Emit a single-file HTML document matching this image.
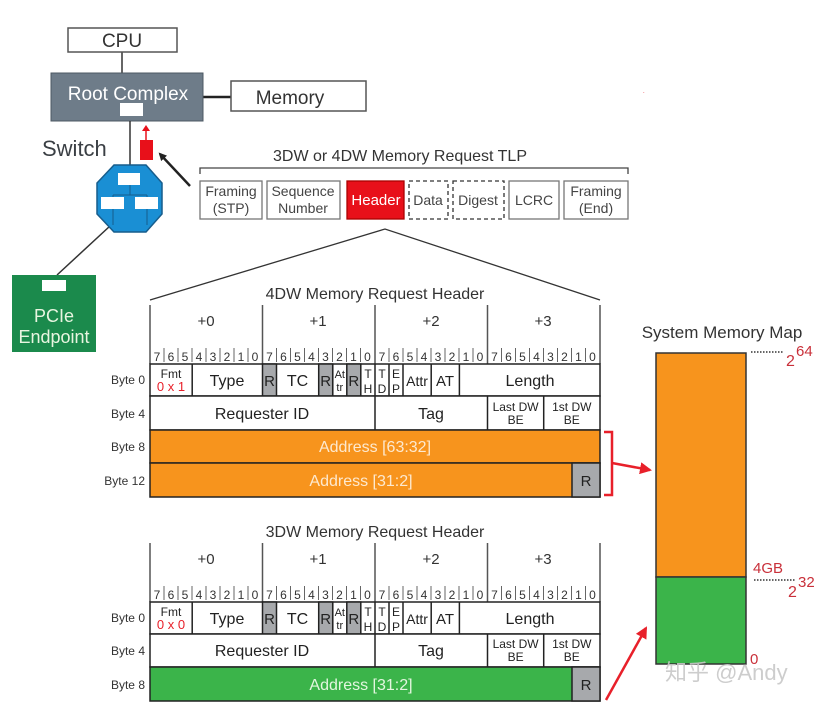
<!DOCTYPE html>
<html><head><meta charset="utf-8"><style>
html,body{margin:0;padding:0;background:#fff;}
svg{display:block;font-family:"Liberation Sans","Noto Sans CJK SC",sans-serif;}
</style></head><body>
<svg width="836" height="712" viewBox="0 0 836 712" xmlns="http://www.w3.org/2000/svg">
<defs>
<marker id="ab" markerWidth="8" markerHeight="8" refX="6" refY="4" orient="auto" markerUnits="userSpaceOnUse"><path d="M0,0 L8,4 L0,8 z" fill="#222"/></marker>
<marker id="ar" markerWidth="12" markerHeight="12" refX="10" refY="6" orient="auto" markerUnits="userSpaceOnUse"><path d="M0,0 L12,6 L0,12 z" fill="#e8202a"/></marker>
</defs>
<!-- left topology -->
<line x1="122" y1="52" x2="122" y2="73" stroke="#333" stroke-width="1.5"/>
<rect x="68" y="28" width="109" height="24" fill="#fff" stroke="#555" stroke-width="1.5"/>
<text x="122" y="47" font-size="19" text-anchor="middle" fill="#333">CPU</text>
<line x1="203" y1="97" x2="231" y2="97" stroke="#222" stroke-width="2.5"/>
<rect x="51" y="73" width="152" height="48" fill="#6e7c89" stroke="#4c5863"/>
<text x="128" y="100" font-size="19" text-anchor="middle" fill="#fff">Root Complex</text>
<rect x="120" y="103" width="23" height="13" fill="#fff"/>
<rect x="231" y="81" width="135" height="30" fill="#fff" stroke="#555" stroke-width="1.5"/>
<text x="290" y="104" font-size="19" text-anchor="middle" fill="#333">Memory</text>
<line x1="130" y1="121" x2="130" y2="166" stroke="#333" stroke-width="1.5"/>
<text x="42" y="156" font-size="22" fill="#3a3f44">Switch</text>
<rect x="140" y="140" width="13" height="20" fill="#e8101a"/>
<line x1="146" y1="140" x2="146" y2="130" stroke="#e8101a" stroke-width="1.5"/>
<path d="M142,131 L146,125 L150,131z" fill="#e8101a"/>
<line x1="190" y1="186" x2="160" y2="154" stroke="#222" stroke-width="2.5" marker-end="url(#ab)"/>
<line x1="110" y1="226" x2="57" y2="275" stroke="#333" stroke-width="1.5"/>
<polygon points="114,165 146,165 162,183 162,214 146,232 114,232 97,214 97,183" fill="#1a8fd4" stroke="#175d8c" stroke-width="1.5"/>
<path d="M130,185 V195 M113,195 H147 M113,195 V225 M147,195 V225" stroke="#175d8c" fill="none"/>
<rect x="118" y="173" width="22" height="12" fill="#fff"/>
<rect x="101" y="197" width="23" height="12" fill="#fff"/>
<rect x="135" y="197" width="23" height="12" fill="#fff"/>
<rect x="12" y="275" width="84" height="77" fill="#1b8a4c"/>
<rect x="42" y="280" width="24" height="11" fill="#fff"/>
<text x="54" y="322" font-size="18" text-anchor="middle" fill="#e8f5e0">PCIe</text>
<text x="54" y="343" font-size="18" text-anchor="middle" fill="#e8f5e0">Endpoint</text>
<text x="643" y="93" font-size="6" fill="#e8202a">.</text>
<!-- TLP -->
<text x="400" y="161" font-size="16" text-anchor="middle" fill="#333">3DW or 4DW Memory Request TLP</text>
<path d="M200,174 V168 H628 V174" stroke="#444" fill="none" stroke-width="1.3"/>
<g font-size="14" fill="#444" text-anchor="middle" stroke-width="1.3">
<rect x="200" y="181" width="62" height="38" fill="#fff" stroke="#777"/>
<text x="231" y="196">Framing</text><text x="231" y="213">(STP)</text>
<rect x="267" y="181" width="73" height="38" fill="#fff" stroke="#777"/>
<text x="303" y="196">Sequence</text><text x="303" y="213">Number</text>
<rect x="347" y="181" width="57" height="38" fill="#e8101a" stroke="#a00"/>
<text x="376" y="205" fill="#fff" font-size="15">Header</text>
<rect x="409" y="181" width="39" height="38" fill="#fff" stroke="#333" stroke-dasharray="4,3"/>
<text x="428" y="205">Data</text>
<rect x="453" y="181" width="51" height="38" fill="#fff" stroke="#333" stroke-dasharray="4,3"/>
<text x="478" y="205">Digest</text>
<rect x="509" y="181" width="50" height="38" fill="#fff" stroke="#777"/>
<text x="534" y="205">LCRC</text>
<rect x="564" y="181" width="64" height="38" fill="#fff" stroke="#777"/>
<text x="596" y="196">Framing</text><text x="596" y="213">(End)</text>
</g>
<path d="M150,300 L385,229 L600,300" stroke="#333" fill="none" stroke-width="1.3"/>

<!-- 4DW header -->
<g id="h4">
<text x="375" y="299" font-size="16" text-anchor="middle" fill="#333">4DW Memory Request Header</text>
<path d="M150,305 V364 M262.5,305 V364 M375,305 V364 M487.5,305 V364 M600,305 V364" stroke="#555" stroke-width="1.5"/>
<g font-size="15" text-anchor="middle" fill="#333"><text x="206" y="326">+0</text><text x="318" y="326">+1</text><text x="431" y="326">+2</text><text x="543" y="326">+3</text></g>
<path d="M164,348V362M178,348V362M192,348V362M206,348V362M220,348V362M234,348V362M248,348V362 M276.5,348V362M290.5,348V362M304.5,348V362M318.5,348V362M332.5,348V362M346.5,348V362M360.5,348V362 M389,348V362M403,348V362M417,348V362M431,348V362M445,348V362M459,348V362M473,348V362 M501.5,348V362M515.5,348V362M529.5,348V362M543.5,348V362M557.5,348V362M571.5,348V362M585.5,348V362" stroke="#666"/>
<g font-size="12" fill="#333" text-anchor="middle">
<text x="157" y="361">7</text><text x="171" y="361">6</text><text x="185" y="361">5</text><text x="199" y="361">4</text><text x="213" y="361">3</text><text x="227" y="361">2</text><text x="241" y="361">1</text><text x="255" y="361">0</text>
<text x="269.5" y="361">7</text><text x="283.5" y="361">6</text><text x="297.5" y="361">5</text><text x="311.5" y="361">4</text><text x="325.5" y="361">3</text><text x="339.5" y="361">2</text><text x="353.5" y="361">1</text><text x="367.5" y="361">0</text>
<text x="382" y="361">7</text><text x="396" y="361">6</text><text x="410" y="361">5</text><text x="424" y="361">4</text><text x="438" y="361">3</text><text x="452" y="361">2</text><text x="466" y="361">1</text><text x="480" y="361">0</text>
<text x="494.5" y="361">7</text><text x="508.5" y="361">6</text><text x="522.5" y="361">5</text><text x="536.5" y="361">4</text><text x="550.5" y="361">3</text><text x="564.5" y="361">2</text><text x="578.5" y="361">1</text><text x="592.5" y="361">0</text>
</g>
<g stroke="#222" stroke-width="1.5">
<rect x="150" y="364" width="450" height="32" fill="#fff"/>
<rect x="262.5" y="364" width="14" height="32" fill="#a7a9ac"/>
<rect x="318.7" y="364" width="14" height="32" fill="#a7a9ac"/>
<rect x="346.8" y="364" width="14" height="32" fill="#a7a9ac"/>
<path d="M192.2,364V396 M332.8,364V396 M375,364V396 M389,364V396 M403,364V396 M431.2,364V396 M459.4,364V396" fill="none"/>
<rect x="150" y="396" width="450" height="34" fill="#fff"/>
<path d="M375,396V430 M487.5,396V430 M543.7,396V430" fill="none"/>
</g>
<g fill="#222" text-anchor="middle">
<text x="171" y="378" font-size="12">Fmt</text>
<text x="227" y="386" font-size="16">Type</text>
<text x="269.5" y="386" font-size="15">R</text>
<text x="297.5" y="386" font-size="16">TC</text>
<text x="325.7" y="386" font-size="15">R</text>
<text x="339.8" y="378" font-size="11">At</text><text x="339.8" y="391" font-size="11">tr</text>
<text x="353.8" y="386" font-size="15">R</text>
<text x="368" y="378" font-size="12">T</text><text x="368" y="393" font-size="12">H</text>
<text x="382" y="378" font-size="12">T</text><text x="382" y="393" font-size="12">D</text>
<text x="396" y="378" font-size="12">E</text><text x="396" y="393" font-size="12">P</text>
<text x="417" y="386" font-size="14">Attr</text>
<text x="445" y="386" font-size="15">AT</text>
<text x="530" y="386" font-size="16">Length</text>
<text x="262" y="419" font-size="16">Requester ID</text>
<text x="431" y="419" font-size="16">Tag</text>
<text x="515.6" y="411" font-size="12">Last DW</text><text x="515.6" y="424" font-size="12">BE</text>
<text x="571.8" y="411" font-size="12">1st DW</text><text x="571.8" y="424" font-size="12">BE</text>
</g>
<g font-size="12" fill="#333" text-anchor="end"><text x="145" y="384">Byte 0</text><text x="145" y="418">Byte 4</text></g>
</g>
<text x="171" y="391" font-size="13" text-anchor="middle" fill="#e8202a">0 x 1</text>
<g stroke="#222" stroke-width="1.5">
<rect x="150" y="430" width="450" height="33" fill="#f7941d"/>
<rect x="150" y="463" width="450" height="34" fill="#f7941d"/>
<rect x="572" y="463" width="28" height="34" fill="#a7a9ac"/>
</g>
<g font-size="16" fill="#fde9cf" text-anchor="middle"><text x="375" y="452">Address [63:32]</text><text x="361" y="486">Address [31:2]</text></g>
<text x="586" y="486" font-size="15" text-anchor="middle" fill="#222">R</text>
<g font-size="12" fill="#333" text-anchor="end"><text x="145" y="451">Byte 8</text><text x="145" y="485">Byte 12</text></g>
<path d="M604,432 H612 V495 H604" stroke="#e8202a" stroke-width="2.5" fill="none"/>
<line x1="612" y1="463" x2="650" y2="470" stroke="#e8202a" stroke-width="2.5" marker-end="url(#ar)"/>

<!-- 3DW header -->
<g transform="translate(0,238)">
<text x="375" y="299" font-size="16" text-anchor="middle" fill="#333">3DW Memory Request Header</text>
<path d="M150,305 V364 M262.5,305 V364 M375,305 V364 M487.5,305 V364 M600,305 V364" stroke="#555" stroke-width="1.5"/>
<g font-size="15" text-anchor="middle" fill="#333"><text x="206" y="326">+0</text><text x="318" y="326">+1</text><text x="431" y="326">+2</text><text x="543" y="326">+3</text></g>
<path d="M164,348V362M178,348V362M192,348V362M206,348V362M220,348V362M234,348V362M248,348V362 M276.5,348V362M290.5,348V362M304.5,348V362M318.5,348V362M332.5,348V362M346.5,348V362M360.5,348V362 M389,348V362M403,348V362M417,348V362M431,348V362M445,348V362M459,348V362M473,348V362 M501.5,348V362M515.5,348V362M529.5,348V362M543.5,348V362M557.5,348V362M571.5,348V362M585.5,348V362" stroke="#666"/>
<g font-size="12" fill="#333" text-anchor="middle">
<text x="157" y="361">7</text><text x="171" y="361">6</text><text x="185" y="361">5</text><text x="199" y="361">4</text><text x="213" y="361">3</text><text x="227" y="361">2</text><text x="241" y="361">1</text><text x="255" y="361">0</text>
<text x="269.5" y="361">7</text><text x="283.5" y="361">6</text><text x="297.5" y="361">5</text><text x="311.5" y="361">4</text><text x="325.5" y="361">3</text><text x="339.5" y="361">2</text><text x="353.5" y="361">1</text><text x="367.5" y="361">0</text>
<text x="382" y="361">7</text><text x="396" y="361">6</text><text x="410" y="361">5</text><text x="424" y="361">4</text><text x="438" y="361">3</text><text x="452" y="361">2</text><text x="466" y="361">1</text><text x="480" y="361">0</text>
<text x="494.5" y="361">7</text><text x="508.5" y="361">6</text><text x="522.5" y="361">5</text><text x="536.5" y="361">4</text><text x="550.5" y="361">3</text><text x="564.5" y="361">2</text><text x="578.5" y="361">1</text><text x="592.5" y="361">0</text>
</g>
<g stroke="#222" stroke-width="1.5">
<rect x="150" y="364" width="450" height="32" fill="#fff"/>
<rect x="262.5" y="364" width="14" height="32" fill="#a7a9ac"/>
<rect x="318.7" y="364" width="14" height="32" fill="#a7a9ac"/>
<rect x="346.8" y="364" width="14" height="32" fill="#a7a9ac"/>
<path d="M192.2,364V396 M332.8,364V396 M375,364V396 M389,364V396 M403,364V396 M431.2,364V396 M459.4,364V396" fill="none"/>
<rect x="150" y="396" width="450" height="33" fill="#fff"/>
<path d="M375,396V429 M487.5,396V429 M543.7,396V429" fill="none"/>
<rect x="150" y="429" width="450" height="34" fill="#3bb44a"/>
<rect x="572" y="429" width="28" height="34" fill="#a7a9ac"/>
</g>
<g fill="#222" text-anchor="middle">
<text x="171" y="378" font-size="12">Fmt</text>
<text x="227" y="386" font-size="16">Type</text>
<text x="269.5" y="386" font-size="15">R</text>
<text x="297.5" y="386" font-size="16">TC</text>
<text x="325.7" y="386" font-size="15">R</text>
<text x="339.8" y="378" font-size="11">At</text><text x="339.8" y="391" font-size="11">tr</text>
<text x="353.8" y="386" font-size="15">R</text>
<text x="368" y="378" font-size="12">T</text><text x="368" y="393" font-size="12">H</text>
<text x="382" y="378" font-size="12">T</text><text x="382" y="393" font-size="12">D</text>
<text x="396" y="378" font-size="12">E</text><text x="396" y="393" font-size="12">P</text>
<text x="417" y="386" font-size="14">Attr</text>
<text x="445" y="386" font-size="15">AT</text>
<text x="530" y="386" font-size="16">Length</text>
<text x="262" y="418" font-size="16">Requester ID</text>
<text x="431" y="418" font-size="16">Tag</text>
<text x="515.6" y="410" font-size="12">Last DW</text><text x="515.6" y="423" font-size="12">BE</text>
<text x="571.8" y="410" font-size="12">1st DW</text><text x="571.8" y="423" font-size="12">BE</text>
<text x="586" y="452" font-size="15">R</text>
</g>
<text x="171" y="391" font-size="13" text-anchor="middle" fill="#e8202a">0 x 0</text>
<text x="361" y="452" font-size="16" text-anchor="middle" fill="#e3f6df">Address [31:2]</text>
<g font-size="12" fill="#333" text-anchor="end"><text x="145" y="384">Byte 0</text><text x="145" y="417">Byte 4</text><text x="145" y="451">Byte 8</text></g>
</g>
<line x1="606" y1="700" x2="646" y2="628" stroke="#e8202a" stroke-width="2.5" marker-end="url(#ar)"/>

<!-- memory map -->
<text x="722" y="338" font-size="17" text-anchor="middle" fill="#333">System Memory Map</text>
<rect x="656" y="353" width="90" height="224" fill="#f7941d" stroke="#333" stroke-width="1.5"/>
<rect x="656" y="577" width="90" height="87" fill="#3bb44a" stroke="#333" stroke-width="1.5"/>
<path d="M751,352 H784 M754,580 H795" stroke="#333" stroke-width="1.5" stroke-dasharray="1.5,1.5"/>
<g fill="#c9303a">
<text x="786" y="366" font-size="16">2</text><text x="796" y="356" font-size="15">64</text>
<text x="753" y="573" font-size="15">4GB</text>
<text x="788" y="597" font-size="16">2</text><text x="798" y="587" font-size="15">32</text>
<text x="750" y="664" font-size="15">0</text>
</g>
<text x="665" y="680" font-size="22" fill="#c8c8c8" opacity="0.9">知乎 @Andy</text>
</svg>
</body></html>
